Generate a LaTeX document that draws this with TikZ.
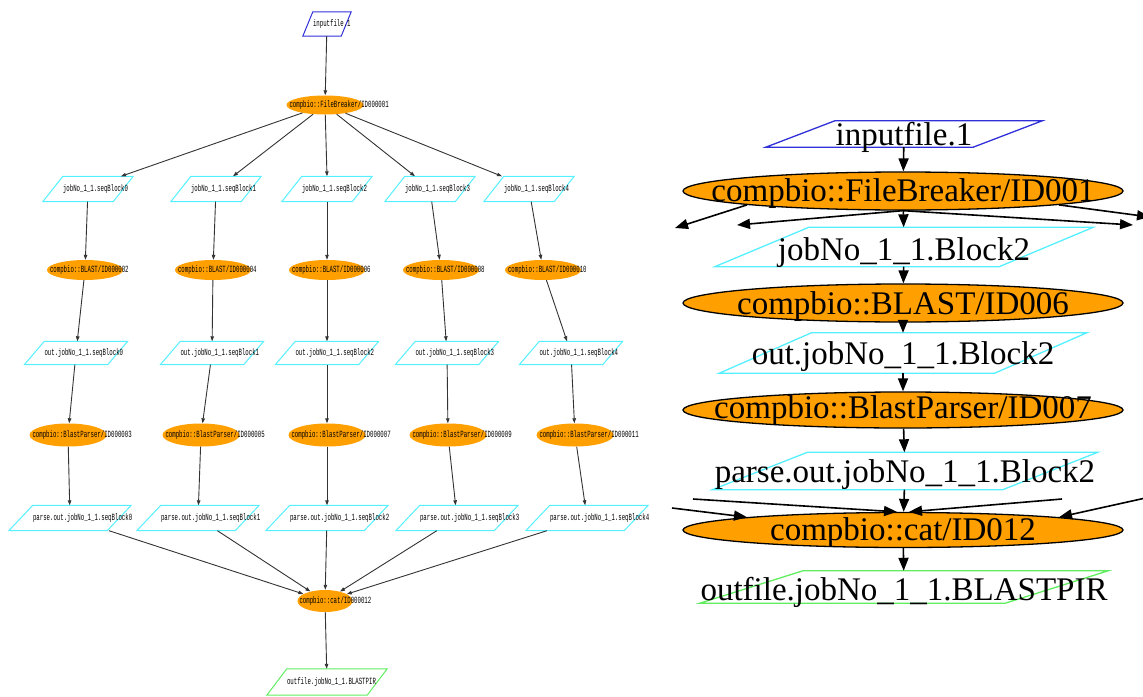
\documentclass[tikz,border=0pt]{standalone}
\usepackage{fontspec}
\setmainfont{Liberation Serif}
\newfontfamily\gridmono[FakeStretch=0.6]{Liberation Mono}
\usetikzlibrary{arrows.meta,positioning,calc,shapes.geometric}
\definecolor{TaskOrange}{HTML}{FF9F00}
\definecolor{FileCyan}{HTML}{55F0FF}
\definecolor{FileBlue}{HTML}{3030D8}
\definecolor{FileGreen}{HTML}{60EE60}
\tikzset{
  small task/.style={ellipse, fill=TaskOrange, inner sep=0pt, minimum width=77pt, minimum height=20pt},
  big task/.style={ellipse, fill=TaskOrange, draw=black, line width=1.3pt, inner sep=0pt, minimum width=440pt},
  small text/.style={font=\gridmono\fontsize{9.5}{10}\selectfont, inner sep=0pt, anchor=west},
  big text/.style={font=\fontsize{33}{36}\selectfont, inner sep=0pt, anchor=base, yshift=-11pt},
  small arr/.style={-{Triangle[length=5pt,width=3.5pt]}, line width=0.9pt, black!80},
  big arr/.style={-{Triangle[length=13pt,width=10pt]}, line width=1.6pt}
}
% parallelogram file node: name, centre, width, height, slant, colour
\newcommand{\datafile}[6]{%
  \node[inner sep=0pt, minimum width={(#3-#5)*1pt}, minimum height={#4*1pt}] (#1) at (#2) {};
  \draw[#6] ($(#1.south west)+(-#5/2,0)$) -- ($(#1.south east)+(-#5/2,0)$)
    -- ($(#1.north east)+(#5/2,0)$) -- ($(#1.north west)+(#5/2,0)$) -- cycle;}

\begin{document}
\begin{tikzpicture}[x=1pt, y=-1pt]
\useasboundingbox (0,0) rectangle (1143,696);
\clip (0,0) rectangle (1143,696);

% ---- whole workflow (left) ----
\datafile{in}{327,24}{48}{24}{10}{FileBlue, line width=1pt}
\node[small text] (in-t) at ([xshift=5pt]in.west) {inputfile.1};

\node[small task, minimum height=19pt] (fb) at (325,105) {};
\node[small text] (fb-t) at ([xshift=3pt]fb.west) {compbio::FileBreaker/ID000001};

% blocks
\datafile{s0}{88,189}{90}{25}{20}{FileCyan, line width=1pt}
\datafile{s1}{216,189}{90}{25}{20}{FileCyan, line width=1pt}
\datafile{s2}{327,189}{90}{25}{20}{FileCyan, line width=1pt}
\datafile{s3}{430,189}{90}{25}{20}{FileCyan, line width=1pt}
\datafile{s4}{529,189}{90}{25}{20}{FileCyan, line width=1pt}
\node[small text] (s0-t) at ([xshift=10pt]s0.west) {jobNo\_1\_1.seqBlock0};
\node[small text] (s1-t) at ([xshift=10pt]s1.west) {jobNo\_1\_1.seqBlock1};
\node[small text] (s2-t) at ([xshift=10pt]s2.west) {jobNo\_1\_1.seqBlock2};
\node[small text] (s3-t) at ([xshift=10pt]s3.west) {jobNo\_1\_1.seqBlock3};
\node[small text] (s4-t) at ([xshift=10pt]s4.west) {jobNo\_1\_1.seqBlock4};

% BLAST tasks
\node[small task, minimum width=76pt] (b0) at (85,270) {};
\node[small task, minimum width=76pt] (b1) at (213,270) {};
\node[small task, minimum width=76pt] (b2) at (327,270) {};
\node[small task, minimum width=76pt] (b3) at (441,270) {};
\node[small task, minimum width=76pt] (b4) at (543,270) {};
\node[small text] (b0-t) at ([xshift=3pt]b0.west) {compbio::BLAST/ID000002};
\node[small text] (b1-t) at ([xshift=3pt]b1.west) {compbio::BLAST/ID000004};
\node[small text] (b2-t) at ([xshift=3pt]b2.west) {compbio::BLAST/ID000006};
\node[small text] (b3-t) at ([xshift=3pt]b3.west) {compbio::BLAST/ID000008};
\node[small text] (b4-t) at ([xshift=3pt]b4.west) {compbio::BLAST/ID000010};

% BLAST output
\datafile{o0}{76,353}{103}{23}{20}{FileCyan, line width=1pt}
\datafile{o1}{212,353}{103}{23}{20}{FileCyan, line width=1pt}
\datafile{o2}{327,353}{103}{23}{20}{FileCyan, line width=1pt}
\datafile{o3}{447,353}{103}{23}{20}{FileCyan, line width=1pt}
\datafile{o4}{571,353}{103}{23}{20}{FileCyan, line width=1pt}
\node[small text] (o0-t) at ([xshift=10pt]o0.west) {out.jobNo\_1\_1.seqBlock0};
\node[small text] (o1-t) at ([xshift=10pt]o1.west) {out.jobNo\_1\_1.seqBlock1};
\node[small text] (o2-t) at ([xshift=10pt]o2.west) {out.jobNo\_1\_1.seqBlock2};
\node[small text] (o3-t) at ([xshift=10pt]o3.west) {out.jobNo\_1\_1.seqBlock3};
\node[small text] (o4-t) at ([xshift=10pt]o4.west) {out.jobNo\_1\_1.seqBlock4};

% parser tasks
\node[small task, minimum height=23pt] (q0) at (68,435) {};
\node[small task, minimum height=23pt] (q1) at (201,435) {};
\node[small task, minimum height=23pt] (q2) at (327,435) {};
\node[small task, minimum height=23pt] (q3) at (448,435) {};
\node[small task, minimum height=23pt] (q4) at (575,435) {};
\node[small text] (q0-t) at ([xshift=3pt]q0.west) {compbio::BlastParser/ID000003};
\node[small text] (q1-t) at ([xshift=3pt]q1.west) {compbio::BlastParser/ID000005};
\node[small text] (q2-t) at ([xshift=3pt]q2.west) {compbio::BlastParser/ID000007};
\node[small text] (q3-t) at ([xshift=3pt]q3.west) {compbio::BlastParser/ID000009};
\node[small text] (q4-t) at ([xshift=3pt]q4.west) {compbio::BlastParser/ID000011};

% parsed output
\datafile{p0}{70,518}{122}{25}{24}{FileCyan, line width=1pt}
\datafile{p1}{198,518}{122}{25}{24}{FileCyan, line width=1pt}
\datafile{p2}{327,518}{122}{25}{24}{FileCyan, line width=1pt}
\datafile{p3}{457,518}{122}{25}{24}{FileCyan, line width=1pt}
\datafile{p4}{587,518}{122}{25}{24}{FileCyan, line width=1pt}
\node[small text] (p0-t) at ([xshift=12pt]p0.west) {parse.out.jobNo\_1\_1.seqBlock0};
\node[small text] (p1-t) at ([xshift=12pt]p1.west) {parse.out.jobNo\_1\_1.seqBlock1};
\node[small text] (p2-t) at ([xshift=12pt]p2.west) {parse.out.jobNo\_1\_1.seqBlock2};
\node[small text] (p3-t) at ([xshift=12pt]p3.west) {parse.out.jobNo\_1\_1.seqBlock3};
\node[small text] (p4-t) at ([xshift=12pt]p4.west) {parse.out.jobNo\_1\_1.seqBlock4};

% join and result
\node[small task, minimum width=55pt, minimum height=22pt] (cat) at (325,601) {};
\node[small text] (cat-t) at ([xshift=2pt]cat.west) {compbio::cat/ID000012};
\datafile{out}{327,682}{120}{26}{20}{FileGreen, line width=1pt}
\node[small text] (out-t) at ([xshift=10pt]out.west) {outfile.jobNo\_1\_1.BLASTPIR};

% arrows
\draw[small arr] (in) -- (fb);
\draw[small arr] (fb) -- ([xshift=33pt]s0.north);
\draw[small arr] (fb) -- ([xshift=17pt]s1.north);
\draw[small arr] (fb) -- (s2.north);
\draw[small arr] (fb) -- ([xshift=-15pt]s3.north);
\draw[small arr] (fb) -- ([xshift=-27pt]s4.north);
\foreach \k in {0,...,4} {
  \draw[small arr] (s\k) -- (b\k);
  \draw[small arr] (b\k) -- (o\k);
  \draw[small arr] (o\k) -- (q\k);
  \draw[small arr] (q\k) -- (p\k);
  \draw[small arr] (p\k) -- (cat);
}
\draw[small arr] (cat) -- (out);

% ---- close-up of one branch (right) ----
\datafile{rin}{904,134}{276}{26}{69}{FileBlue, line width=1.3pt}
\node[big text] (rin-t) at (rin) {inputfile.1};

\node[big task, minimum height=38pt] (rfb) at (903,191) {};
\node[big text, yshift=1pt] (rfb-t) at (rfb) {compbio::FileBreaker/ID001};

\datafile{rs2}{904,247}{378}{39}{94}{FileCyan, line width=1.3pt}
\node[big text, yshift=-2pt] (rs2-t) at (rs2) {jobNo\_1\_1.Block2};

\node[big task, minimum height=38pt] (rbl) at (903,303) {};
\node[big text] (rbl-t) at (rbl) {compbio::BLAST/ID006};

\datafile{ro2}{903,353}{367}{40}{92}{FileCyan, line width=1.3pt}
\node[big text] (ro2-t) at (ro2) {out.jobNo\_1\_1.Block2};

\node[big task, minimum height=36pt] (rbp) at (903,410) {};
\node[big text, yshift=3pt] (rbp-t) at (rbp) {compbio::BlastParser/ID007};

\datafile{rp2}{905,471}{385}{37}{95}{FileCyan, line width=1.3pt}
\node[big text] (rp2-t) at (rp2) {parse.out.jobNo\_1\_1.Block2};

\node[big task, minimum height=35pt] (rcat) at (903,530) {};
\node[big text, yshift=1pt] (rcat-t) at (rcat) {compbio::cat/ID012};

\datafile{rout}{904,587}{408}{32}{103}{FileGreen, line width=1.3pt}
\node[big text, yshift=-2pt] (rout-t) at (rout) {outfile.jobNo\_1\_1.BLASTPIR};

% ends of edges that leave the close-up
\coordinate (lA) at (675,228);
\coordinate (lB) at (737,225);
\coordinate (rB) at (1133,225);
\coordinate (rA) at (1150,217);
\coordinate (cL1) at (672,508);
\coordinate (cL2) at (693,499);
\coordinate (cR2) at (1062,499);
\coordinate (cR1) at (1150,497);

\draw[big arr] (rin) -- (rfb);
\draw[big arr] (rfb) -- (rs2);
\draw[big arr] (rfb.south west) -- (lA);
\draw[big arr] (rfb.south) -- (lB);
\draw[big arr] (rfb.south) -- (rB);
\draw[big arr] (rfb.south east) -- (rA);
\draw[big arr] (rs2) -- (rbl);
\draw[big arr] (rbl) -- (ro2);
\draw[big arr] (ro2) -- (rbp);
\draw[big arr] (rbp) -- (rp2);
\draw[big arr] (rp2) -- (rcat);
\draw[big arr] (cL1) -- (rcat.north west);
\draw[big arr] (cL2) -- ([xshift=-6pt]rcat.north);
\draw[big arr] (cR2) -- ([xshift=6pt]rcat.north);
\draw[big arr] (cR1) -- (rcat.north east);
\draw[big arr] (rcat) -- (rout);
\end{tikzpicture}
\end{document}
